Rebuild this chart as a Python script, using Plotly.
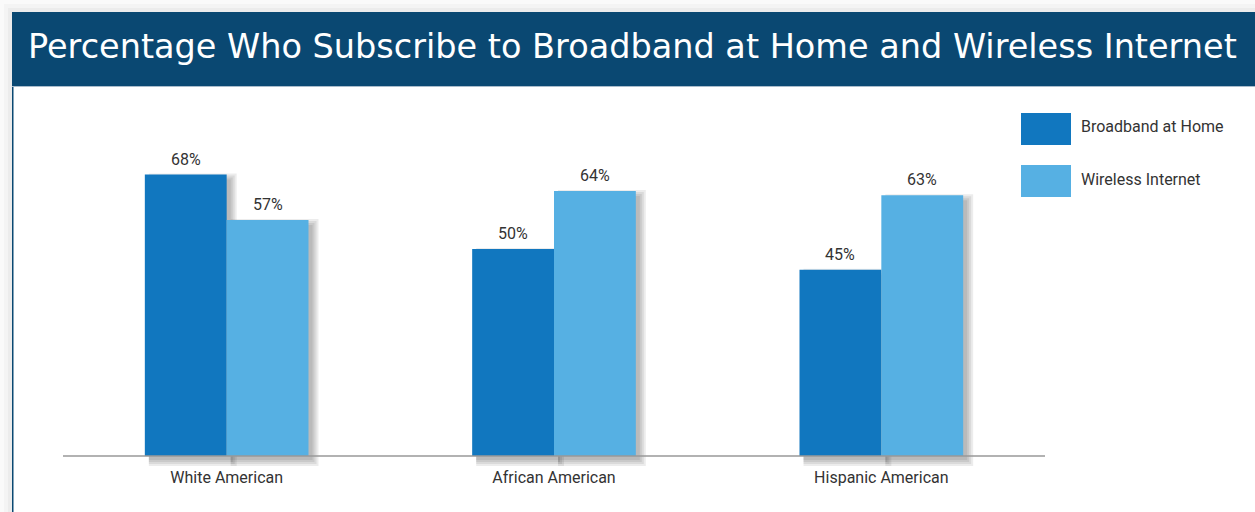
import plotly.graph_objects as go

categories = ["White American", "African American", "Hispanic American"]
broadband = [68, 50, 45]
wireless = [57, 64, 63]
series_names = ["Broadband at Home", "Wireless Internet"]
colors = ["#1177BF", "#56B0E3"]
title_text = "Percentage Who Subscribe to Broadband at Home and Wireless Internet"

W, H = 1255, 512
L, R, T, B = 63, 210, 100, 46
PW, PH = W - L - R, H - T - B
Y_TOP = 86.0
AXIS_PX = 456
PX_PER_UNIT = (AXIS_PX - T) / Y_TOP
Y_BOTTOM = -(H - B - AXIS_PX) / PX_PER_UNIT
X_UNIT_PX = PW / 3.0

def px_x(x):
    return (x - L) / PW

def px_y(y):
    return (H - B - y) / PH

LABEL_FONT = "Roboto, Liberation Sans, sans-serif"

fig = go.Figure()
for name, vals, col in zip(series_names, [broadband, wireless], colors):
    fig.add_trace(go.Bar(x=list(range(len(categories))), y=vals, name=name,
                         marker=dict(color=col, line=dict(width=0)), showlegend=False,
                         hoverinfo="skip"))

annotations = []
shapes = []

# page background shading (soft shadow around the card)
for k, a in enumerate([0.02, 0.025, 0.03]):
    shapes.append(dict(type="rect", xref="paper", yref="paper", x0=px_x(4 * k), x1=px_x(12),
                       y0=px_y(520), y1=px_y(4 * k), line=dict(width=0),
                       fillcolor=f"rgba(0,0,0,{a})", layer="below"))
    shapes.append(dict(type="rect", xref="paper", yref="paper", x0=px_x(12), x1=px_x(1260),
                       y0=px_y(12), y1=px_y(4 * k), line=dict(width=0),
                       fillcolor=f"rgba(0,0,0,{a})", layer="below"))

# card
shapes += [
    dict(type="rect", xref="paper", yref="paper", x0=px_x(12.75), x1=px_x(1262), y0=px_y(86), y1=px_y(520),
         line=dict(color="#0A4872", width=1.5), fillcolor="#FFFFFF", layer="below"),
    dict(type="rect", xref="paper", yref="paper", x0=px_x(12), x1=px_x(1262), y0=px_y(86), y1=px_y(12),
         line=dict(width=0), fillcolor="#0A4872", layer="below"),
    dict(type="line", xref="paper", yref="paper", x0=px_x(12), x1=px_x(1262), y0=px_y(86.5), y1=px_y(86.5),
         line=dict(color="#A9BCCC", width=1), layer="below"),
]

# bar drop shadows derived from the data
bw = 0.25
dxu = 1.0 / X_UNIT_PX
dyu = 1.0 / PX_PER_UNIT
for s, vals in enumerate([broadband, wireless]):
    for i, v in enumerate(vals):
        left = i - bw + s * bw
        right = left + bw
        for b in (9, 7, 5, 3):
            shapes.append(dict(type="rect", xref="x", yref="y",
                               x0=left + 4 * dxu, x1=right + (1 + b) * dxu,
                               y0=-(1 + b) * dyu, y1=v - (8 - b) * dyu,
                               line=dict(width=0), fillcolor="rgba(0,0,0,0.075)", layer="below"))

# baseline
shapes.append(dict(type="line", xref="paper", yref="y", x0=0, x1=1, y0=0, y1=0,
                   line=dict(color="#999999", width=1.6), layer="above"))

# value labels
for s, vals in enumerate([broadband, wireless]):
    for i, v in enumerate(vals):
        annotations.append(dict(x=i - bw / 2 + s * bw, y=v, text=f"{v}%", showarrow=False,
                                yanchor="bottom", yshift=4,
                                font=dict(family=LABEL_FONT, size=16, color="#333333")))

# title
annotations.append(dict(xref="paper", yref="paper", x=px_x(26), y=px_y(47), xanchor="left",
                        yanchor="middle", text=title_text, showarrow=False,
                        font=dict(family="DejaVu Sans, sans-serif", size=33.5, color="#FFFFFF")))

# legend
leg_y = [129, 181]
for name, col, yc in zip(series_names, colors, leg_y):
    shapes.append(dict(type="rect", xref="paper", yref="paper", x0=px_x(1021), x1=px_x(1071),
                       y0=px_y(yc + 16), y1=px_y(yc - 16), line=dict(width=0), fillcolor=col))
    annotations.append(dict(xref="paper", yref="paper", x=px_x(1079), y=px_y(yc - 2), xanchor="left",
                            yanchor="middle", text=name, showarrow=False,
                            font=dict(family=LABEL_FONT, size=16, color="#333333")))

fig.update_layout(
    width=W, height=H,
    margin=dict(l=L, r=R, t=T, b=B, pad=0),
    paper_bgcolor="#FFFFFF", plot_bgcolor="rgba(0,0,0,0)",
    barmode="group", bargap=0.5, bargroupgap=0,
    annotations=annotations, shapes=shapes,
    xaxis=dict(showline=False, showgrid=False, zeroline=False, range=[-0.5, 2.5],
               tickmode="array", tickvals=list(range(len(categories))), ticktext=categories,
               ticks="", tickfont=dict(family=LABEL_FONT, size=16, color="#333333")),
    yaxis=dict(range=[Y_BOTTOM, Y_TOP], visible=False, showgrid=False, zeroline=False),
)

fig.write_html("out.html", config={"displayModeBar": False})
